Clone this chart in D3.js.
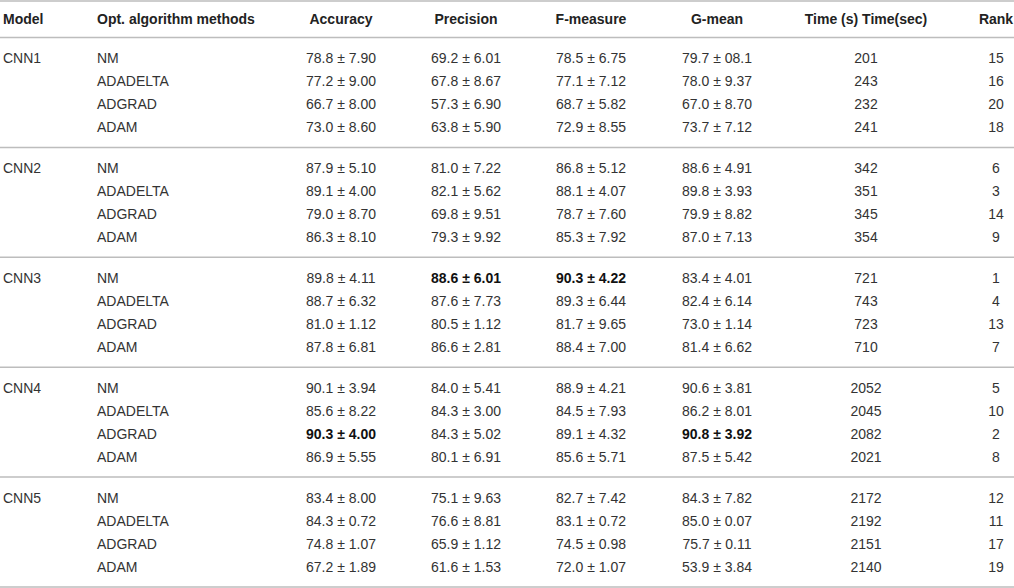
<!DOCTYPE html>
<html>
<head>
<meta charset="utf-8">
<script src="https://cdn.jsdelivr.net/npm/d3@7"></script>
<style>
    body { margin: 0; background: #fff; }
    svg { display: block; font-family: "Liberation Sans", Arial, sans-serif; }
</style>
</head>
<body>
<svg id="table"></svg>
<script>
const models = ['CNN1', 'CNN2', 'CNN3', 'CNN4', 'CNN5'];
const methods = ['NM', 'ADADELTA', 'ADGRAD', 'ADAM'];
const headers = ['Model', 'Opt. algorithm methods', 'Accuracy', 'Precision', 'F-measure', 'G-mean', 'Time (s) Time(sec)', 'Rank'];

// one entry per row, models in order, methods in order inside each model
const accuracy = [
    '78.8 ± 7.90', '77.2 ± 9.00', '66.7 ± 8.00', '73.0 ± 8.60',
    '87.9 ± 5.10', '89.1 ± 4.00', '79.0 ± 8.70', '86.3 ± 8.10',
    '89.8 ± 4.11', '88.7 ± 6.32', '81.0 ± 1.12', '87.8 ± 6.81',
    '90.1 ± 3.94', '85.6 ± 8.22', '90.3 ± 4.00', '86.9 ± 5.55',
    '83.4 ± 8.00', '84.3 ± 0.72', '74.8 ± 1.07', '67.2 ± 1.89'
];
const precision = [
    '69.2 ± 6.01', '67.8 ± 8.67', '57.3 ± 6.90', '63.8 ± 5.90',
    '81.0 ± 7.22', '82.1 ± 5.62', '69.8 ± 9.51', '79.3 ± 9.92',
    '88.6 ± 6.01', '87.6 ± 7.73', '80.5 ± 1.12', '86.6 ± 2.81',
    '84.0 ± 5.41', '84.3 ± 3.00', '84.3 ± 5.02', '80.1 ± 6.91',
    '75.1 ± 9.63', '76.6 ± 8.81', '65.9 ± 1.12', '61.6 ± 1.53'
];
const fMeasure = [
    '78.5 ± 6.75', '77.1 ± 7.12', '68.7 ± 5.82', '72.9 ± 8.55',
    '86.8 ± 5.12', '88.1 ± 4.07', '78.7 ± 7.60', '85.3 ± 7.92',
    '90.3 ± 4.22', '89.3 ± 6.44', '81.7 ± 9.65', '88.4 ± 7.00',
    '88.9 ± 4.21', '84.5 ± 7.93', '89.1 ± 4.32', '85.6 ± 5.71',
    '82.7 ± 7.42', '83.1 ± 0.72', '74.5 ± 0.98', '72.0 ± 1.07'
];
const gMean = [
    '79.7 ± 08.1', '78.0 ± 9.37', '67.0 ± 8.70', '73.7 ± 7.12',
    '88.6 ± 4.91', '89.8 ± 3.93', '79.9 ± 8.82', '87.0 ± 7.13',
    '83.4 ± 4.01', '82.4 ± 6.14', '73.0 ± 1.14', '81.4 ± 6.62',
    '90.6 ± 3.81', '86.2 ± 8.01', '90.8 ± 3.92', '87.5 ± 5.42',
    '84.3 ± 7.82', '85.0 ± 0.07', '75.7 ± 0.11', '53.9 ± 3.84'
];
const timeSec = [
    201, 243, 232, 241,
    342, 351, 345, 354,
    721, 743, 723, 710,
    2052, 2045, 2082, 2021,
    2172, 2192, 2151, 2140
];
const rank = [
    15, 16, 20, 18,
    6, 3, 14, 9,
    1, 4, 13, 7,
    5, 10, 2, 8,
    12, 11, 17, 19
];

// [row index, column index] of cells printed in bold
const boldCells = [[8, 3], [8, 4], [14, 2], [14, 5]];

const width = 1014;
const height = 588;
const headerLine = 37.5;
const rowStep = 23;
const firstRowOffset = 21;

const svg = d3.select('#table')
    .attr('width', width)
    .attr('height', height);

const colX = d3.scaleOrdinal()
    .domain(d3.range(headers.length))
    .range([3, 97, 341, 466, 591, 717, 866, 996]);

const colAnchor = i => i < 2 ? 'start' : 'middle';

const groupY = d3.scaleBand()
    .domain(models)
    .range([headerLine, height - 1]);

const rowY = d3.scaleLinear()
    .domain([0, 1])
    .range([firstRowOffset, firstRowOffset + rowStep]);

const rows = [];
models.forEach((model, m) => {
    methods.forEach((method, k) => {
        const i = m * methods.length + k;
        rows.push({
            y: groupY(model) + rowY(k),
            cells: [k === 0 ? model : '', method, accuracy[i], precision[i], fMeasure[i], gMean[i], timeSec[i], rank[i]],
            index: i
        });
    });
});

const isBold = (r, c) => boldCells.some(d => d[0] === r && d[1] === c);

// rules
const rules = [1, headerLine].concat(models.map(m => groupY(m) + groupY.bandwidth()));
svg.append('g')
    .selectAll('line')
    .data(rules)
    .enter()
    .append('line')
    .attr('x1', 0)
    .attr('x2', width)
    .attr('y1', d => d)
    .attr('y2', d => d)
    .attr('stroke', '#bdbdbd')
    .attr('stroke-width', 1.5);

// header
svg.append('g')
    .selectAll('text')
    .data(headers)
    .enter()
    .append('text')
    .attr('x', (d, i) => colX(i))
    .attr('y', 19)
    .attr('dy', '0.35em')
    .attr('text-anchor', (d, i) => colAnchor(i))
    .attr('font-size', 14)
    .attr('font-weight', 'bold')
    .attr('fill', '#222')
    .text(d => d);

// body
const rowGroups = svg.append('g')
    .selectAll('g')
    .data(rows)
    .enter()
    .append('g')
    .attr('transform', d => `translate(0,${d.y})`);

rowGroups.selectAll('text')
    .data(d => d.cells.map((v, c) => ({ v, c, r: d.index })))
    .enter()
    .append('text')
    .attr('x', d => colX(d.c))
    .attr('dy', '0.35em')
    .attr('text-anchor', d => colAnchor(d.c))
    .attr('font-size', 14)
    .attr('font-weight', d => isBold(d.r, d.c) ? 'bold' : 'normal')
    .attr('fill', d => isBold(d.r, d.c) ? '#111' : '#333')
    .text(d => d.v);
</script>
</body>
</html>
